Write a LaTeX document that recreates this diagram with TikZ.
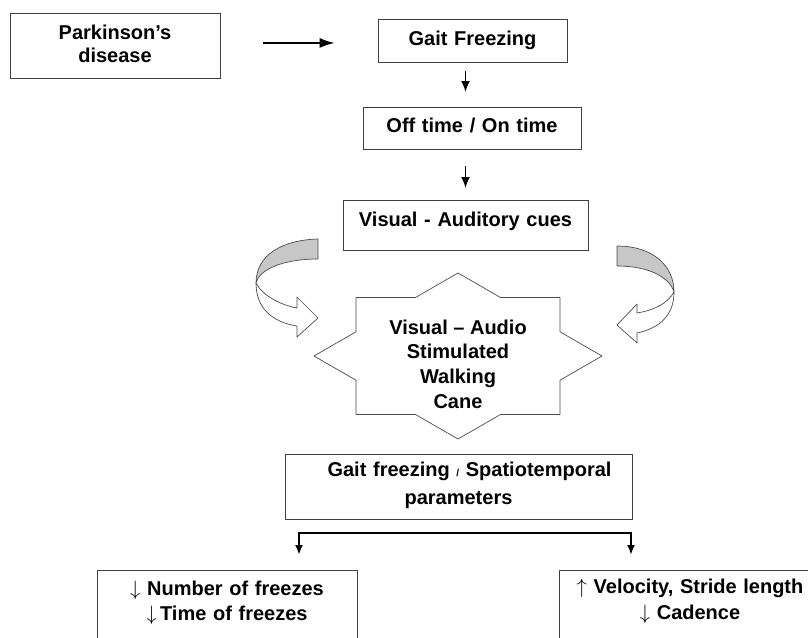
\documentclass[tikz,border=0pt]{standalone}
\usepackage{fontspec}
\setmainfont{Liberation Sans}
\usetikzlibrary{arrows.meta}

\tikzset{
    box/.style={draw=black!75, line width=0.9pt, inner sep=0pt, anchor=north, align=center},
    freccia/.style={-{Latex[length=11pt,width=9pt]}, line width=1.8pt},
    ramo/.style={{Latex[length=10pt,width=8pt]}-{Latex[length=10pt,width=8pt]}, line width=2pt},
    nastro/.style={draw=black!70, line width=0.7pt, line join=round},
}
\newcommand{\giu}{$\downarrow$}
\newcommand{\su}{$\uparrow$}

\begin{document}
\begin{tikzpicture}[x=1pt, y=-1pt, font=\fontsize{20}{25}\selectfont\bfseries]
    \useasboundingbox (0,0) rectangle (808,637);

    % Riquadri in alto
    \node[box, text width=210pt, text height=26pt, text depth=39pt] (park) at (115,13) {Parkinson’s\\[-2pt]disease};
    \node[box, text width=189pt, text height=26pt, text depth=17pt] (gait) at (472.5,19) {Gait Freezing};
    \node[box, text width=218pt, text height=25pt, text depth=17pt] (offon) at (472,107) {Off time / On time};
    \node[box, text width=245pt, text height=26pt, text depth=24pt] (cues) at (465.5,200) {Visual - Auditory cues};

    % Frecce tra i riquadri
    \draw[freccia, -{Latex[length=15pt,width=10pt]}, line width=1.5pt, shorten <=43pt, shorten >=43pt] ([yshift=3pt]park.east) -- ([yshift=3pt]park.east -| gait.west);
    \draw[freccia, shorten <=8pt, shorten >=15pt] (gait.south -| cues.north) -- (offon.north -| cues.north);
    \draw[freccia, shorten <=16pt, shorten >=12pt] (offon.south -| cues.north) -- (cues.north);

    % Stella a otto punte (rettangolo + rombo)
    \draw[nastro, fill=white, shift={(458,356)}] (0,-83) -- (42.5,-58.5) -- (102,-58.5) -- (102,-24.2) -- (144,0)
        -- (102,24.2) -- (102,58.5) -- (42.5,58.5) -- (0,83) -- (-42.5,58.5) -- (-102,58.5) -- (-102,24.2)
        -- (-144,0) -- (-102,-24.2) -- (-102,-58.5) -- (-42.5,-58.5) -- cycle;
    \node[align=center, inner sep=0pt, font=\fontsize{20}{24.7}\selectfont\bfseries] (cane) at (458,364) {Visual – Audio\\Stimulated\\Walking\\Cane};

    % Frecce curve ai lati
    \draw[nastro, fill=black!22] (318,239) .. controls (282,240) and (256,255) .. (256,283)
        .. controls (259,270) and (282,259) .. (318,259) -- cycle;
    \draw[nastro, fill=white] (256,283) .. controls (262,295) and (280,305) .. (297,308) -- (297,297) -- (318,318)
        -- (297,337) -- (297,326) .. controls (272,322) and (256,308) .. (256,283) -- cycle;
    \draw[nastro, fill=black!22] (617,246) .. controls (652,246) and (674,265) .. (674,292)
        .. controls (670,278) and (650,266) .. (617,266) -- cycle;
    \draw[nastro, fill=white] (674,292) .. controls (668,303) and (655,310) .. (637,313) -- (637,304) -- (617,325)
        -- (637,343) -- (637,333) .. controls (660,328) and (674,315) .. (674,292) -- cycle;

    % Riquadri in basso
    \node[box, text width=347pt, text height=22pt, text depth=43pt, font=\fontsize{20}{28}\selectfont\bfseries] (params) at (458.5,454)
        {\hspace*{22pt}Gait freezing {\fontsize{10}{10}\selectfont/} Spatiotemporal\\parameters};
    \node[box, text width=260pt, text height=25pt, text depth=80pt] (freezes) at (227,570)
        {\giu{} Number of freezes\\\giu\,Time of freezes};
    \node[box, text width=262pt, text height=23pt, text depth=80pt, font=\fontsize{20}{26}\selectfont\bfseries] (velocity) at (690,570)
        {\su{} Velocity, Stride length\\\giu{} Cadence};

    % Diramazione verso i risultati
    \coordinate (rl) at (299,533);
    \coordinate (rr) at (631,533);
    \draw[ramo, shorten <=15pt, shorten >=15pt] (rl |- freezes.north) -- (rl) -- (rr) -- (rr |- velocity.north);
\end{tikzpicture}
\end{document}
